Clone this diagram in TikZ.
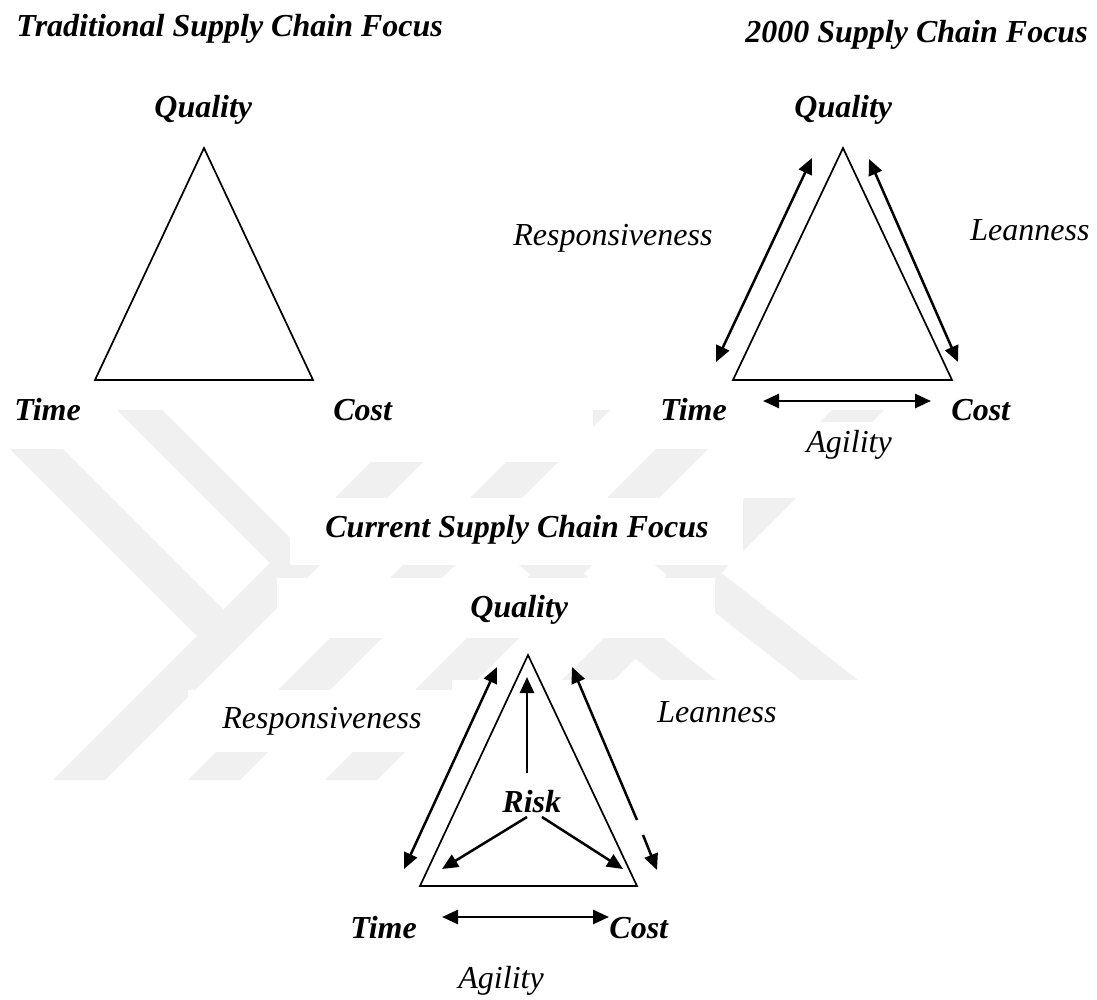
\documentclass[tikz,border=0pt]{standalone}
\usepackage{fontspec}
\setmainfont{Liberation Serif}
\usetikzlibrary{arrows.meta}

\begin{document}
\begin{tikzpicture}[x=0.5pt,y=-0.5pt,
  lbl/.style={font=\fontsize{16}{19}\selectfont\bfseries\itshape, inner sep=0pt, anchor=base west},
  ilbl/.style={font=\fontsize{16}{19}\selectfont\itshape, inner sep=0pt, anchor=base west},
  tri/.style={line width=0.85pt, line join=miter},
  dbl/.style={line width=1.25pt, {Triangle[length=8pt,width=7pt]}-{Triangle[length=8pt,width=7pt]}},
  sgl/.style={line width=1.25pt, -{Triangle[length=8pt,width=7pt]}},
  wm/.style={fill=black!6, draw=none},
  mask/.style={fill=white, draw=none}]

\useasboundingbox (0,0) rectangle (1097,1000);
\fill[white] (0,0) rectangle (1097,1000);

% faint background emblem
\begin{scope}
  \clip (0,410) rectangle (1097,780);
  \foreach \xo in {53,188,325,462}
    \fill[wm] (\xo,780) -- ++(52,0) -- ++(370,-370) -- ++(-52,0) -- cycle;
  \fill[wm] (-29,410) -- (24,410) -- (224,610) -- (197,636) -- cycle;
  \fill[wm] (117,410) -- (162,410) -- (318,566) -- (273,566) -- cycle;
  \fill[wm] (435,498) -- (489,498) -- (716,680) -- (662,680) -- cycle;
  \fill[wm] (569,498) -- (626,498) -- (858,680) -- (801,680) -- cycle;
\end{scope}
% white label backings over the emblem
\fill[mask] (0,400) rectangle (110,449);
\fill[mask] (290,400) rectangle (593,462);
\fill[mask] (613,400) rectangle (800,449);
\fill[mask] (593,433) rectangle (613,449);
\fill[mask] (717,422) rectangle (1097,498);
\fill[mask] (290,498) rectangle (743,565);
\fill[mask] (277,578) rectangle (715,638);
\fill[mask] (188,690) rectangle (452,752);
\fill[mask] (452,680) rectangle (1097,1000);

% ---------------- traditional focus ----------------
\node[lbl] (t1title) at (16,37) {Traditional Supply Chain Focus};
\node[lbl] (t1q) at (154,118) {Quality};
\node[lbl] (t1time) at (14,420) {Time};
\node[lbl] (t1cost) at (333,420) {Cost};
\coordinate (t1a) at (204,148);
\coordinate (t1b) at (95,380);
\coordinate (t1c) at (313,380);
\draw[tri] (t1a) -- (t1b) -- (t1c) -- cycle;

% ---------------- 2000 focus ----------------
\node[lbl] (t2title) at (745,43) {2000 Supply Chain Focus};
\node[lbl] (t2q) at (794,118) {Quality};
\node[lbl] (t2time) at (660,420) {Time};
\node[lbl] (t2cost) at (951,420) {Cost};
\node[ilbl] (t2resp) at (513,246) {Responsiveness};
\node[ilbl] (t2lean) at (970,241) {Leanness};
\node[ilbl] (t2agil) at (806,452) {Agility};
\coordinate (t2a) at (843,148);
\coordinate (t2b) at (733,380);
\coordinate (t2c) at (952,380);
\draw[tri] (t2a) -- (t2b) -- (t2c) -- cycle;
\coordinate (t2r1) at (812,158);
\coordinate (t2r2) at (716,362);
\coordinate (t2l1) at (869,159);
\coordinate (t2l2) at (958,362);
\coordinate (t2g1) at (763,401);
\coordinate (t2g2) at (931,401);
\draw[dbl] (t2r1) -- (t2r2);
\draw[dbl] (t2l1) -- (t2l2);
\draw[dbl] (t2g1) -- (t2g2);

% ---------------- current focus ----------------
\node[lbl] (t3title) at (325,537) {Current Supply Chain Focus};
\node[lbl] (t3q) at (470,617) {Quality};
\node[lbl] (risk) at (502,812) {Risk};
\node[lbl] (t3time) at (350,938) {Time};
\node[lbl] (t3cost) at (609,938) {Cost};
\node[ilbl] (t3resp) at (222,728) {Responsiveness};
\node[ilbl] (t3lean) at (657,722) {Leanness};
\node[ilbl] (t3agil) at (458,988) {Agility};
\coordinate (t3a) at (528,655);
\coordinate (t3b) at (420,886);
\coordinate (t3c) at (637,886);
\draw[tri] (t3a) -- (t3b) -- (t3c) -- cycle;
\coordinate (t3r1) at (497,667);
\coordinate (t3r2) at (404,869);
\draw[dbl] (t3r1) -- (t3r2);
\coordinate (t3l1) at (572,667);
\coordinate (t3lm1) at (637,820);
\coordinate (t3lm2) at (643,835);
\coordinate (t3l2) at (657,870);
\draw[line width=1.25pt, {Triangle[length=8pt,width=7pt]}-] (t3l1) -- (t3lm1);
\draw[sgl] (t3lm2) -- (t3l2);
\coordinate (t3g1) at (442,917);
\coordinate (t3g2) at (609,917);
\draw[dbl] (t3g1) -- (t3g2);
% risk spreads to the three corners
\coordinate (rk0) at (527,773);
\coordinate (rkq) at (527,677);
\coordinate (rkl0) at (527,817);
\coordinate (rkl) at (442,869);
\coordinate (rkr0) at (542,817);
\coordinate (rkr) at (623,869);
\draw[sgl] (rk0) -- (rkq);
\draw[sgl] (rkl0) -- (rkl);
\draw[sgl] (rkr0) -- (rkr);
\end{tikzpicture}
\end{document}
